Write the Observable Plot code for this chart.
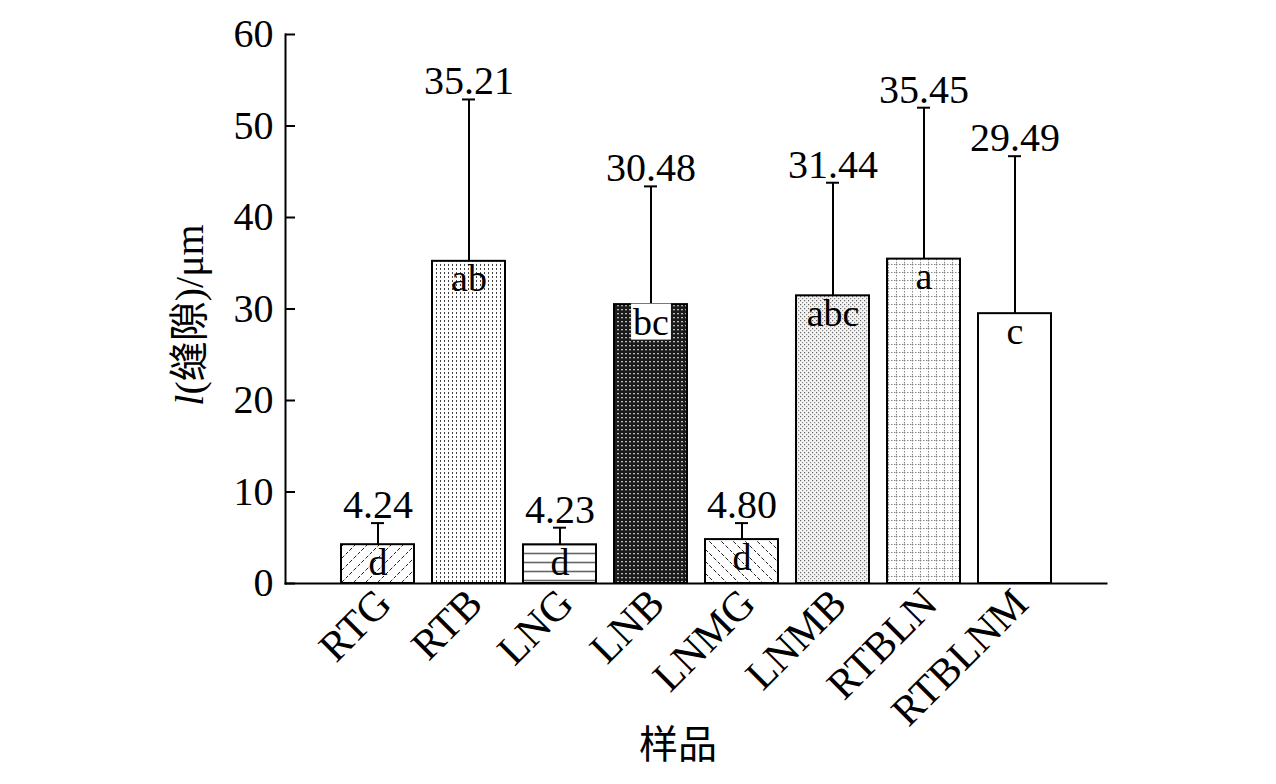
<!DOCTYPE html>
<html><head><meta charset="utf-8">
<script src="https://cdn.jsdelivr.net/npm/d3@7"></script>
<script src="https://cdn.jsdelivr.net/npm/@observablehq/plot@0.6"></script>
<style>body{margin:0;background:#fff}</style>
</head><body><div id="chart"></div>
<script>
const samples = ["RTG","RTB","LNG","LNB","LNMG","LNMB","RTBLN","RTBLNM"];
const means = [4.24,35.21,4.23,30.48,4.80,31.44,35.45,29.49];
const upperErr = [6.6,52.9,6.1,43.4,6.6,43.8,52.0,46.7];
const letters = ["d","ab","d","bc","d","abc","a","c"];
const fills = ["url(#pat0)","url(#pat1)","url(#pat2)","url(#pat3)","url(#pat4)","url(#pat5)","url(#pat6)","white"];
const yTicks = [0,10,20,30,40,50,60];
const xLabel = "样品";
const yLabel = "l(缝隙)/μm";

const data = samples.map((s,i)=>({sample:s, mean:means[i], upper:upperErr[i], letter:letters[i], fill:fills[i]}));
const FONT = '"Liberation Serif","Noto Sans CJK SC",serif';

const chart = Plot.plot({
  width:1276, height:784,
  marginLeft:285, marginRight:170, marginTop:34, marginBottom:201,
  style:{fontFamily:FONT, fontSize:"39px", color:"black", background:"white", overflow:"visible"},
  x:{domain:samples, paddingInner:0.2, paddingOuter:0.61, label:null},
  y:{domain:[0,60], label:null},
  color:{type:"identity"},
  marks:[
    Plot.barY(data,{x:"sample", y:"mean", fill:"fill", stroke:"black", strokeWidth:2}),
    Plot.ruleX(data,{x:"sample", y1:"mean", y2:"upper", stroke:"black", strokeWidth:2}),
    Plot.tickY(data,{x:"sample", y:"upper", stroke:"black", strokeWidth:2, insetLeft:30, insetRight:30}),
    Plot.text(data,{x:"sample", y:"upper", text:d=>d.mean.toFixed(2), lineAnchor:"bottom", dy:-5, fontSize:40, fill:"black"}),
    Plot.text(data,{x:"sample", y:"mean", text:"letter", lineAnchor:"top", dy:3, fontSize:38, fill:"black", className:"letters"}),
    Plot.axisY({ticks:yTicks, tickSize:-10, tickPadding:22, fontSize:40, label:null, strokeWidth:2}),
    Plot.axisX({tickSize:0, tickRotate:-45, tickPadding:13, dx:6, fontSize:42, label:null}),
    Plot.frame({anchor:"left", strokeWidth:2}),
    Plot.frame({anchor:"bottom", strokeWidth:2}),
    Plot.text([xLabel], {frameAnchor:"bottom", dy:174, dx:-18, fontSize:39, fill:"black"}),
    Plot.text([yLabel], {frameAnchor:"left", textAnchor:"middle", rotate:-90, dx:-95, dy:6, fontSize:40, fill:"black"})
  ]
});

const defs = `
<pattern id="pat0" patternUnits="userSpaceOnUse" width="12" height="12">
 <rect width="12" height="12" fill="white"/>
 <path d="M-3,15 L15,-3 M-3,3 L3,-3 M9,15 L15,9" stroke="#222" stroke-width="1" stroke-dasharray="4,2"/>
</pattern>
<pattern id="pat1" patternUnits="userSpaceOnUse" width="4" height="4">
 <rect width="4" height="4" fill="white"/>
 <rect x="0" y="0" width="1" height="2" fill="#444"/>
</pattern>
<pattern id="pat2" patternUnits="userSpaceOnUse" width="8" height="9">
 <rect width="8" height="9" fill="white"/>
 <line x1="0" y1="4.5" x2="8" y2="4.5" stroke="#666" stroke-width="1.6"/>
</pattern>
<pattern id="pat3" patternUnits="userSpaceOnUse" width="4" height="4">
 <rect width="4" height="4" fill="#1a1a1a"/>
 <rect x="1" y="1" width="2" height="1.3" fill="#bbb"/>
</pattern>
<pattern id="pat4" patternUnits="userSpaceOnUse" width="12" height="12">
 <rect width="12" height="12" fill="white"/>
 <path d="M-3,-3 L15,15 M-3,9 L3,15 M9,-3 L15,3" stroke="#222" stroke-width="1" stroke-dasharray="4,2"/>
</pattern>
<pattern id="pat5" patternUnits="userSpaceOnUse" width="4" height="4">
 <rect width="4" height="4" fill="#f4f4f4"/>
 <rect x="0" y="0" width="1.2" height="1.2" fill="#666"/>
 <rect x="2" y="2" width="1.2" height="1.2" fill="#888"/>
</pattern>
<pattern id="pat6" patternUnits="userSpaceOnUse" width="8" height="8">
 <rect width="8" height="8" fill="white"/>
 <line x1="0.5" y1="0" x2="0.5" y2="8" stroke="#888" stroke-width="1" stroke-dasharray="1.5,1.5"/>
 <line x1="0" y1="0.5" x2="8" y2="0.5" stroke="#888" stroke-width="1" stroke-dasharray="1.5,1.5"/>
</pattern>`;
const d = document.createElementNS("http://www.w3.org/2000/svg","defs");
d.innerHTML = defs;
chart.insertBefore(d, chart.firstChild);
chart.querySelectorAll("text").forEach(t=>{
  if (t.textContent === yLabel) t.innerHTML = '<tspan font-style="italic">l</tspan>(缝隙)/μm';
});
document.getElementById("chart").appendChild(chart);
// white box behind the "bc" letter label, sized from the rendered text
chart.querySelectorAll("g.letters text").forEach(t=>{
  if (t.textContent === "bc") {
    const b = t.getBBox();
    const r = document.createElementNS("http://www.w3.org/2000/svg","rect");
    r.setAttribute("x", b.x - 2); r.setAttribute("y", b.y + 3);
    r.setAttribute("width", b.width + 4); r.setAttribute("height", b.height - 6);
    r.setAttribute("fill", "white");
    if (t.getAttribute("transform")) r.setAttribute("transform", t.getAttribute("transform"));
    t.parentNode.insertBefore(r, t);
  }
});
</script></body></html>
